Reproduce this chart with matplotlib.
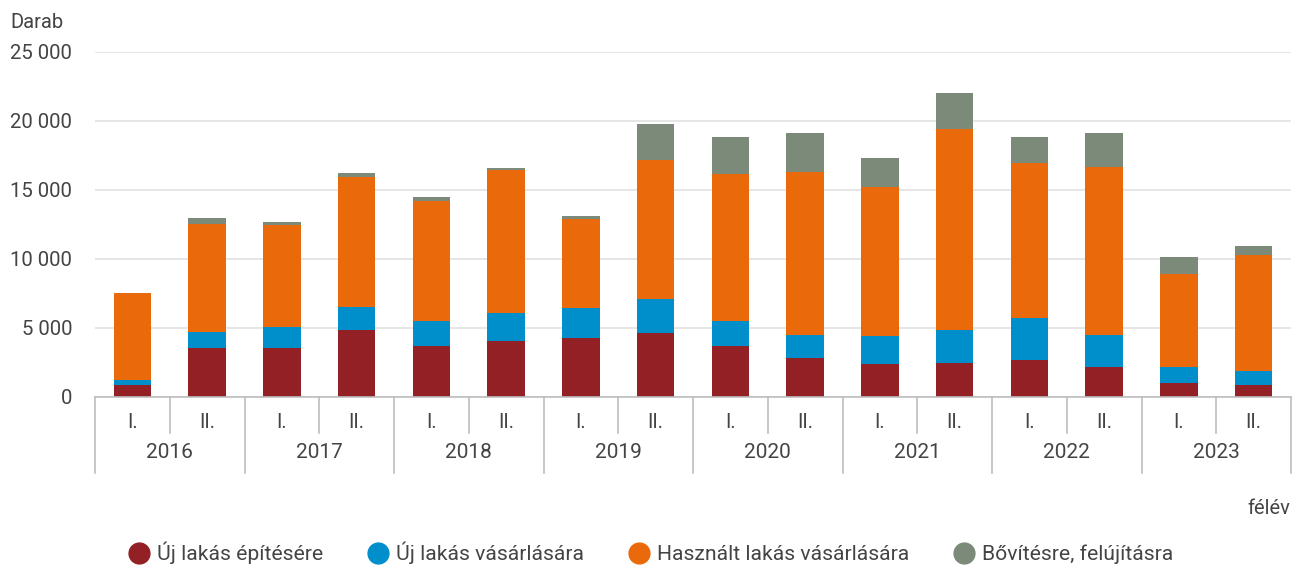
import numpy as np
import matplotlib.pyplot as plt
from matplotlib.lines import Line2D

plt.rcParams['font.family'] = ['Roboto', 'DejaVu Sans']

years = ["2016", "2017", "2018", "2019", "2020", "2021", "2022", "2023"]
halves = ["I.", "II."]

# darab, félévenként
uj_epites = [850, 3570, 3570, 4830, 3700, 4060, 4300, 4610, 3720, 2800, 2370, 2460, 2700, 2150, 990, 870]
uj_vasarlas = [380, 1160, 1480, 1690, 1810, 2030, 2120, 2490, 1810, 1690, 2030, 2400, 3050, 2340, 1160, 1040]
hasznalt = [6290, 7810, 7370, 9400, 8700, 10310, 6480, 10070, 10600, 11770, 10820, 14560, 11180, 12130, 6760, 8380]
bovites = [30, 410, 220, 310, 230, 170, 190, 2590, 2710, 2820, 2050, 2580, 1910, 2460, 1230, 650]

series = [uj_epites, uj_vasarlas, hasznalt, bovites]
names = ["Új lakás építésére", "Új lakás vásárlására", "Használt lakás vásárlására", "Bővítésre, felújításra"]
colors = ["#922024", "#008fcb", "#ea690b", "#7b8a79"]

W, H = 1292, 567
fig = plt.figure(figsize=(W / 100, H / 100), dpi=100)
ax = fig.add_axes([95 / W, 170 / H, 1196 / W, 345.5 / H])

n = len(years) * len(halves)
x = np.arange(n)
bottom = np.zeros(n)
for vals, c, name in zip(series, colors, names):
    ax.bar(x, vals, width=0.5, bottom=bottom, color=c, label=name, zorder=3)
    bottom += np.array(vals)

txt = "#444444"
ax.set_xlim(-0.5, n - 0.5)
ax.set_ylim(0, 25000)
ax.set_yticks(range(0, 25001, 5000))
ax.set_yticklabels([f"{v:,}".replace(",", " ") for v in range(0, 25001, 5000)])
ax.tick_params(axis="y", length=0, pad=16.5, labelsize=14.7, labelcolor=txt)
ax.tick_params(axis="x", length=0, labelbottom=False)
ax.grid(axis="y", color="#e2e2e2", linewidth=1.2, zorder=0)
for s in ["top", "right", "left"]:
    ax.spines[s].set_visible(False)
ax.spines["bottom"].set_color("#bdbdbd")
ax.spines["bottom"].set_linewidth(1.2)
ax.spines["bottom"].set_zorder(4)

# two-level category axis
ph = 345.5
tr = ax.get_xaxis_transform()
for i in range(n):
    ax.text(i, -26 / ph, halves[i % 2], transform=tr, ha="center", va="center",
            fontsize=14.5, color=txt)
for j, yr in enumerate(years):
    ax.text(2 * j + 0.5, -56 / ph, yr, transform=tr, ha="center", va="center",
            fontsize=15, color=txt)
for k in range(n + 1):
    xb = k - 0.5
    depth = 76 if k % 2 == 0 else 36
    ax.plot([xb, xb], [0, -depth / ph], transform=tr, color="#bdbdbd",
            linewidth=1.2, clip_on=False)

fig.text(10 / W, 1 - 22 / H, "Darab", fontsize=14.5, color=txt, va="center")
fig.text(1290 / W, 1 - 508 / H, "félév", fontsize=14.5, color=txt, va="center", ha="right")

handles = [Line2D([], [], marker="o", linestyle="", markersize=15, color=c) for c in colors]
fig.legend(handles, names, loc="center", bbox_to_anchor=(651 / W, 1 - 553 / H), ncol=4,
           frameon=False, fontsize=15.2, labelcolor=txt, handletextpad=0.35,
           columnspacing=2.1, handlelength=1.0)

fig.savefig("out.png", dpi=100)
